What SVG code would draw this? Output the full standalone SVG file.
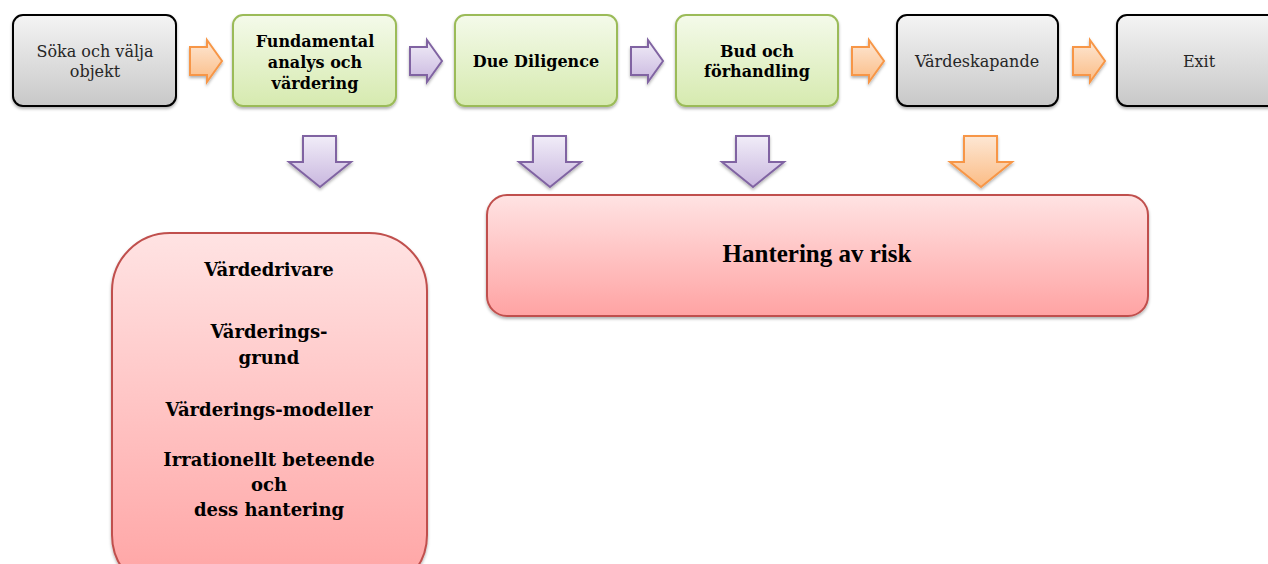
<svg xmlns="http://www.w3.org/2000/svg" xmlns:xlink="http://www.w3.org/1999/xlink" width="1268" height="564" viewBox="0 0 1268 564">
<defs>
<linearGradient id="gGray" x1="0" y1="0" x2="0" y2="1"><stop offset="0" stop-color="#f4f4f4"/><stop offset="1" stop-color="#c8c8c8"/></linearGradient>
<linearGradient id="gGreen" x1="0" y1="0" x2="0" y2="1"><stop offset="0" stop-color="#f4faea"/><stop offset="1" stop-color="#d6eaaf"/></linearGradient>
<linearGradient id="gPurple" x1="0" y1="0" x2="0" y2="1"><stop offset="0" stop-color="#f1edf8"/><stop offset="1" stop-color="#c9b7df"/></linearGradient>
<linearGradient id="gOrange" x1="0" y1="0" x2="0" y2="1"><stop offset="0" stop-color="#fde7d4"/><stop offset="1" stop-color="#fbbc85"/></linearGradient>
<linearGradient id="gRed" x1="0" y1="0" x2="0" y2="1"><stop offset="0" stop-color="#ffe3e3"/><stop offset="1" stop-color="#ffa3a3"/></linearGradient>
<filter id="sh" x="-10%" y="-10%" width="120%" height="130%"><feDropShadow dx="0" dy="2" stdDeviation="1.5" flood-color="#000" flood-opacity="0.3"/></filter>
<path id="ra" d="M0,7 H17 V0 L32,21 L17,42 V35 H0 Z"/>
<path id="da" d="M14,0 H47 V26 H62 L31,51 L0,26 H14 Z"/>
<style>
.gray{fill:url(#gGray);stroke:#000;stroke-width:2;filter:url(#sh)}
.green{fill:url(#gGreen);stroke:#9bbb59;stroke-width:2;filter:url(#sh)}
.red{fill:url(#gRed);stroke:#c0504d;stroke-width:2;filter:url(#sh)}
.pa{fill:url(#gPurple);stroke:#8064a2;stroke-width:2;filter:url(#sh)}
.oa{fill:url(#gOrange);stroke:#f79646;stroke-width:2;filter:url(#sh)}
text{font-family:"DejaVu Serif","Liberation Serif",serif;fill:#000;text-anchor:middle}
.r{font-size:16px;fill:#262626}
.b{font-size:16px;font-weight:bold}
.bl{font-size:18px;font-weight:bold}
.h{font-family:"Liberation Serif",serif;font-size:25px;font-weight:bold}
</style>
</defs>
<g id="connectors">
<use xlink:href="#ra" class="oa" x="190" y="40"/>
<use xlink:href="#ra" class="pa" x="410" y="40"/>
<use xlink:href="#ra" class="pa" x="631" y="40"/>
<use xlink:href="#ra" class="oa" x="852" y="40"/>
<use xlink:href="#ra" class="oa" x="1073" y="40"/>
<use xlink:href="#da" class="pa" x="289" y="136"/>
<use xlink:href="#da" class="pa" x="519" y="136"/>
<use xlink:href="#da" class="pa" x="722" y="136"/>
<use xlink:href="#da" class="oa" x="950" y="136"/>
</g>
<g id="n1"><rect class="gray" x="13" y="15" width="163" height="91" rx="10"/>
<text class="r" x="95" y="57">Söka och välja</text><text class="r" x="95" y="77">objekt</text></g>
<g id="n2"><rect class="green" x="233" y="15" width="163" height="91" rx="10"/>
<text class="b" x="315" y="47">Fundamental</text><text class="b" x="315" y="68">analys och</text><text class="b" x="315" y="89">värdering</text></g>
<g id="n3"><rect class="green" x="455" y="15" width="162" height="91" rx="10"/>
<text class="b" x="536" y="67">Due Diligence</text></g>
<g id="n4"><rect class="green" x="676" y="15" width="162" height="91" rx="10"/>
<text class="b" x="757" y="57">Bud och</text><text class="b" x="757" y="77">förhandling</text></g>
<g id="n5"><rect class="gray" x="897" y="15" width="161" height="91" rx="10"/>
<text class="r" x="977" y="67">Värdeskapande</text></g>
<g id="n6"><rect class="gray" x="1117" y="15" width="162" height="91" rx="10"/>
<text class="r" x="1199" y="67">Exit</text></g>
<g id="n7"><rect class="red" x="487" y="195" width="661" height="121" rx="20"/>
<text class="h" x="817" y="262">Hantering av risk</text></g>
<g id="n8"><rect class="red" x="112" y="233" width="315" height="360" rx="58"/>
<text class="bl" x="269" y="276">Värdedrivare</text>
<text class="bl" x="269" y="338">Värderings-</text>
<text class="bl" x="269" y="364">grund</text>
<text class="bl" x="269" y="416">Värderings-modeller</text>
<text class="bl" x="269" y="466">Irrationellt beteende</text>
<text class="bl" x="269" y="491">och</text>
<text class="bl" x="269" y="516">dess hantering</text></g>
</svg>
